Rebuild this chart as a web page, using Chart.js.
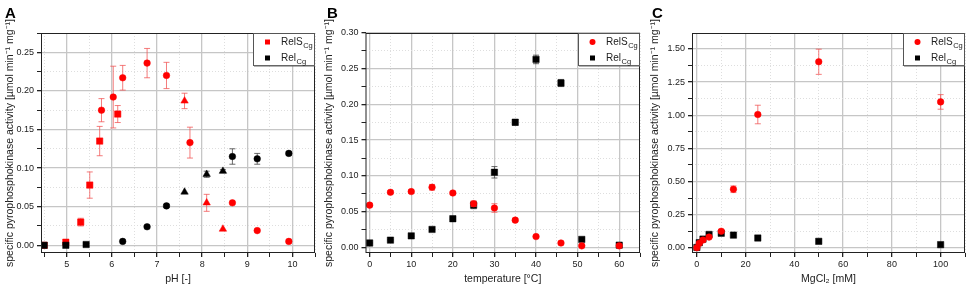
<!DOCTYPE html>
<html>
<head>
<meta charset="utf-8">
<script src="https://cdn.jsdelivr.net/npm/chart.js@4.4.0/dist/chart.umd.min.js"></script>
<style>
  body { margin: 0; background: #fff; }
  canvas { position: absolute; top: 0; }
</style>
</head>
<body>
<canvas id="chartA" width="320" height="289" style="left:0px"></canvas>
<canvas id="chartB" width="325" height="289" style="left:320px"></canvas>
<canvas id="chartC" width="325" height="289" style="left:645px"></canvas>
<script>
// ---- panel A: pH ----
const phRelSX     = [4.5, 4.98, 5.31, 5.51, 5.73, 6.13, 5.77, 6.03, 6.24, 6.78, 7.21, 7.73, 8.67, 9.22, 9.92, 7.61, 8.10, 8.46]
const phRelSY     = [0.000, 0.004, 0.030, 0.078, 0.135, 0.170, 0.175, 0.192, 0.217, 0.236, 0.220, 0.133, 0.055, 0.019, 0.005, 0.187, 0.055, 0.021]
const phRelSErr   = [0, 0, 0.005, 0.017, 0.019, 0.011, 0.015, 0.040, 0.016, 0.019, 0.017, 0.020, 0, 0, 0, 0.010, 0.011, 0]
const phRelSShape = ['rect', 'rect', 'rect', 'rect', 'rect', 'rect', 'circle', 'circle', 'circle', 'circle', 'circle', 'circle', 'circle', 'circle', 'circle', 'triangle', 'triangle', 'triangle']
const phRelX      = [4.5, 4.98, 5.43, 6.24, 6.78, 7.21, 8.67, 9.22, 9.92, 7.61, 8.10, 8.46]
const phRelY      = [0.000, 0.000, 0.001, 0.005, 0.024, 0.051, 0.115, 0.112, 0.119, 0.069, 0.092, 0.096]
const phRelErr    = [0, 0, 0, 0, 0, 0.002, 0.010, 0.007, 0.002, 0, 0.004, 0.002]
const phRelShape  = ['rect', 'rect', 'rect', 'circle', 'circle', 'circle', 'circle', 'circle', 'circle', 'triangle', 'triangle', 'triangle']
const phTicks     = [5, 6, 7, 8, 9, 10]
const phActTicks  = [0, 0.05, 0.10, 0.15, 0.20, 0.25]

// ---- panel B: temperature ----
const tempX       = [0, 5, 10, 15, 20, 25, 30, 35, 40, 46, 51, 60]
const tempRelSY   = [0.059, 0.077, 0.078, 0.084, 0.076, 0.061, 0.055, 0.038, 0.015, 0.006, 0.002, 0.002]
const tempRelSErr = [0.002, 0.002, 0.002, 0.004, 0.002, 0.004, 0.006, 0.002, 0.001, 0.001, 0.001, 0.001]
const tempRelY    = [0.006, 0.010, 0.016, 0.025, 0.040, 0.059, 0.105, 0.175, 0.263, 0.230, 0.011, 0.003]
const tempRelErr  = [0.001, 0.001, 0.001, 0.001, 0.001, 0.005, 0.008, 0.004, 0.006, 0.005, 0.001, 0.002]
const tempTicks   = [0, 10, 20, 30, 40, 50, 60]
const tempActTicks = [0, 0.05, 0.10, 0.15, 0.20, 0.25, 0.30]

// ---- panel C: MgCl2 ----
const mgX         = [0, 1, 2.5, 5, 10, 15, 25, 50, 100]
const mgRelSY     = [0.000, 0.033, 0.058, 0.080, 0.124, 0.441, 1.005, 1.403, 1.100]
const mgRelSErr   = [0.005, 0.005, 0.008, 0.010, 0.010, 0.025, 0.070, 0.095, 0.055]
const mgRelY      = [0.002, 0.038, 0.065, 0.100, 0.109, 0.095, 0.073, 0.048, 0.023]
const mgRelErr    = [0, 0, 0, 0, 0, 0, 0, 0, 0]
const mgTicks     = [0, 20, 40, 60, 80, 100]
const mgActTicks  = [0, 0.25, 0.50, 0.75, 1.00, 1.25, 1.50]

const yTitle = 'specific pyrophosphokinase activity [µmol min⁻¹ mg⁻¹]'
const FONT = "'Liberation Sans', Arial, sans-serif"
const RED = '#ff0000'
const BLACK = '#000000'

function toXY(xs, ys) {
    return xs.map((x, i) => ({ x: x, y: ys[i] }))
}

function markerSize(shape) {
    if (shape === 'rect') return 4.5
    if (shape === 'triangle') return 4.3
    return 3.3
}

function series(label, xs, ys, errs, shapes, color, errColor, order) {
    return {
        label: label,
        data: toXY(xs, ys),
        errors: errs,
        errorColor: errColor,
        pointStyle: shapes,
        pointRadius: ctx => markerSize(Array.isArray(shapes) ? shapes[ctx.dataIndex] : shapes),
        backgroundColor: color,
        borderColor: color,
        borderWidth: 0.5,
        showLine: false,
        order: order
    }
}

function axis(pos, min, max, minor, major, digits, title, size, titlePad) {
    const isMajor = v => major.some(m => Math.abs(m - v) < 1e-6)
    return {
        type: 'linear',
        position: pos,
        min: min,
        max: max,
        afterFit: s => { if (pos === 'left') s.width = size; else s.height = size },
        ticks: {
            stepSize: minor,
            includeBounds: false,
            autoSkip: false,
            maxRotation: 0,
            padding: pos === 'left' ? 3 : 2,
            color: '#222',
            font: { family: FONT, size: 9 },
            callback: v => isMajor(v) ? v.toFixed(digits) : ''
        },
        grid: {
            color: c => (c.tick && isMajor(c.tick.value)) ? '#c6c6c6' : '#dedede',
            lineWidth: c => (c.tick && isMajor(c.tick.value)) ? 1.3 : 1,
            tickLength: 4,
            tickColor: '#222'
        },
        border: {
            display: false,
            dash: c => (c.tick && !isMajor(c.tick.value)) ? [1, 2] : []
        },
        title: {
            display: true,
            text: title,
            color: '#222',
            font: { family: FONT, size: 10.5 },
            padding: titlePad
        }
    }
}

// error bars drawn just before each dataset's markers
const errorBars = {
    id: 'errorBars',
    beforeDatasetDraw(chart, args) {
        const ds = chart.data.datasets[args.index]
        if (!ds.errors) return
        const ys = chart.scales.y
        const ctx = chart.ctx
        ctx.save()
        ctx.strokeStyle = ds.errorColor
        ctx.lineWidth = 1
        args.meta.data.forEach((pt, i) => {
            const e = ds.errors[i]
            if (!e) return
            const v = ds.data[i].y
            const top = ys.getPixelForValue(v + e)
            const bot = ys.getPixelForValue(v - e)
            ctx.beginPath()
            ctx.moveTo(pt.x, top); ctx.lineTo(pt.x, bot)
            ctx.moveTo(pt.x - 3, top); ctx.lineTo(pt.x + 3, top)
            ctx.moveTo(pt.x - 3, bot); ctx.lineTo(pt.x + 3, bot)
            ctx.stroke()
        })
        ctx.restore()
    }
}

// frame, legend box and panel letter
const panelDecor = {
    id: 'panelDecor',
    afterDraw(chart, args, opts) {
        const ctx = chart.ctx
        const a = chart.chartArea
        ctx.save()
        ctx.strokeStyle = '#222'
        ctx.lineWidth = 1
        ctx.strokeRect(a.left + 0.5, a.top + 0.5, a.right - a.left - 1, a.bottom - a.top - 1)

        const w = 62, h = 33
        const bx = a.right - w, by = a.top
        ctx.fillStyle = '#fff'
        ctx.fillRect(bx, by, w, h)
        ctx.strokeStyle = '#555'
        ctx.strokeRect(bx + 0.5, by + 0.5, w - 1, h - 1)
        ctx.fillStyle = '#666'
        ctx.fillRect(bx + 1, by + h - 1, w - 1, 1.5)

        const entries = [
            { name: 'RelS', color: RED, shape: opts.firstShape },
            { name: 'Rel', color: BLACK, shape: 'rect' }
        ]
        entries.forEach((en, i) => {
            const my = by + 9 + i * 16
            const mx = bx + 14.5
            ctx.fillStyle = en.color
            if (en.shape === 'circle') {
                ctx.beginPath(); ctx.arc(mx, my, 3, 0, Math.PI * 2); ctx.fill()
            } else {
                ctx.fillRect(mx - 2.5, my - 2.5, 5, 5)
            }
            ctx.fillStyle = '#222'
            ctx.textBaseline = 'alphabetic'
            ctx.font = '10px ' + FONT
            const tx = bx + 28
            ctx.fillText(en.name, tx, my + 3)
            const nw = ctx.measureText(en.name).width
            ctx.font = '7.5px ' + FONT
            ctx.fillText('Cg', tx + nw + 0.5, my + 6)
        })

        ctx.fillStyle = '#000'
        ctx.font = 'bold 15px ' + FONT
        ctx.fillText(opts.letter, opts.letterX, 18)
        ctx.restore()
    }
}

function makePanel(id, cfg) {
    return new Chart(document.getElementById(id), {
        type: 'scatter',
        data: { datasets: cfg.datasets },
        options: {
            responsive: false,
            animation: false,
            layout: { padding: { top: 33, right: cfg.padRight, left: 0, bottom: 0 } },
            plugins: {
                legend: { display: false },
                tooltip: { enabled: false },
                panelDecor: { letter: cfg.letter, letterX: cfg.letterX, firstShape: cfg.firstShape }
            },
            scales: {
                x: cfg.x,
                y: cfg.y
            }
        },
        plugins: [errorBars, panelDecor]
    })
}

const xPad = { top: 0, bottom: 4 }

makePanel('chartA', {
    letter: 'A', letterX: 5, firstShape: 'rect', padRight: 5,
    datasets: [
        series('RelS', phRelSX, phRelSY, phRelSErr, phRelSShape, RED, 'rgba(240,80,80,0.75)', 2),
        series('Rel', phRelX, phRelY, phRelErr, phRelShape, BLACK, 'rgba(70,70,70,0.8)', 1)
    ],
    x: axis('bottom', 4.43, 10.5, 0.5, phTicks, 0, 'pH [-]', 36, xPad),
    y: axis('left', -0.01, 0.275, 0.025, phActTicks, 2, yTitle, 41, { top: 4, bottom: 0 })
})

makePanel('chartB', {
    letter: 'B', letterX: 7, firstShape: 'circle', padRight: 3,
    datasets: [
        series('RelS', tempX, tempRelSY, tempRelSErr, 'circle', RED, 'rgba(240,80,80,0.75)', 1),
        series('Rel', tempX, tempRelY, tempRelErr, 'rect', BLACK, 'rgba(70,70,70,0.8)', 2)
    ],
    x: axis('bottom', -1, 65, 5, tempTicks, 0, 'temperature [°C]', 36, xPad),
    y: axis('left', -0.008, 0.30, 0.025, tempActTicks, 2, yTitle, 45.5, { top: 2.5, bottom: 0 })
})

makePanel('chartC', {
    letter: 'C', letterX: 7, firstShape: 'circle', padRight: 4,
    datasets: [
        series('RelS', mgX, mgRelSY, mgRelSErr, 'circle', RED, 'rgba(240,80,80,0.75)', 1),
        series('Rel', mgX, mgRelY, mgRelErr, 'rect', BLACK, 'rgba(70,70,70,0.8)', 2)
    ],
    x: axis('bottom', -2, 110, 10, mgTicks, 0, 'MgCl₂ [mM]', 36, xPad),
    y: axis('left', -0.04, 1.62, 0.125, mgActTicks, 2, yTitle, 47, { top: 3.5, bottom: 0 })
})
</script>
</body>
</html>
